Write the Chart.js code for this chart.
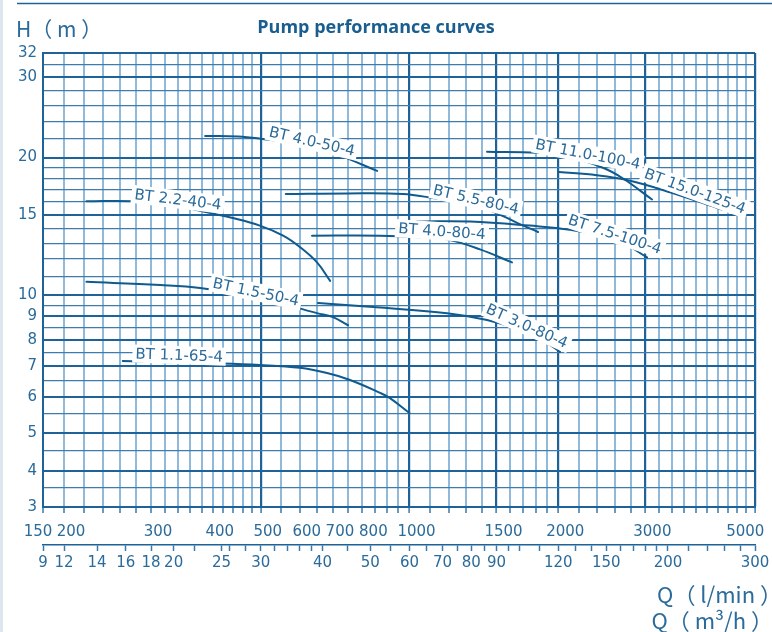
<!DOCTYPE html>
<html>
<head>
<meta charset="utf-8">
<script src="https://cdn.jsdelivr.net/npm/chart.js@4/dist/chart.umd.min.js"></script>
<style>
  html, body { margin: 0; padding: 0; background: #fff; }
  body { width: 772px; height: 632px; overflow: hidden; }
  canvas { display: block; }
</style>
</head>
<body>
<canvas id="pumpChart" width="772" height="632"></canvas>
<script>
// pump curves, Q in l/min, H in m
const curveNames = ['BT 4.0-50-4', 'BT 2.2-40-4', 'BT 1.5-50-4', 'BT 1.1-65-4', 'BT 5.5-80-4',
    'BT 4.0-80-4', 'BT 3.0-80-4', 'BT 7.5-100-4', 'BT 11.0-100-4', 'BT 15.0-125-4'];

const curveQ = [
    [386, 450, 500, 600, 670, 725, 860],
    [222, 276, 328, 377, 439, 498, 555, 600, 650, 691],
    [222, 313, 377, 498, 650, 700, 751],
    [263, 400, 498, 600, 681, 758, 872, 913, 1000],
    [562, 750, 970, 1100, 1390, 1546, 1650, 1820],
    [635, 872, 1050, 1191, 1389, 1612],
    [653, 872, 1191, 1435, 1673, 1897, 2016],
    [1035, 1326, 1750, 2112, 2630, 3024],
    [1435, 1811, 2044, 2463, 2704, 3095],
    [2006, 2394, 2754, 3366, 4288],
];

const curveH = [
    [22.3, 22.25, 22.0, 21.4, 20.8, 20.2, 18.7],
    [16.05, 16.05, 15.75, 15.3, 14.75, 14.2, 13.5, 12.75, 11.8, 10.75],
    [10.7, 10.53, 10.37, 9.86, 9.14, 8.96, 8.6],
    [7.18, 7.1, 7.04, 6.94, 6.76, 6.53, 6.12, 5.96, 5.53],
    [16.65, 16.7, 16.65, 16.35, 15.6, 14.9, 14.4, 13.75],
    [13.5, 13.5, 13.4, 13.25, 12.6, 11.8],
    [9.62, 9.4, 9.14, 8.83, 8.4, 7.86, 7.52],
    [14.5, 14.5, 14.2, 13.9, 13.2, 12.1],
    [20.6, 20.5, 20.25, 19.0, 18.0, 16.2],
    [18.6, 18.3, 17.86, 16.8, 15.4],
];

// where each curve name sits (data units) and its tilt in degrees
const labelQ = [635, 340, 489, 342, 1363, 1163, 1729, 2604, 2296, 3781];
const labelH = [21.7, 16.2, 10.17, 7.4, 16.2, 13.8, 8.57, 13.6, 20.35, 16.9];
const labelTilt = [13, 7, 12, 2, 13, 4, 24, 18, 11, 20];

// tick labels and grid values
const qLabels = [150, 200, 300, 400, 500, 600, 700, 800, 1000, 1500, 2000, 3000, 5000];
const qGrid = [220, 240, 260, 280, 320, 340, 360, 380, 420, 440, 460, 480, 550, 650, 750, 850, 900, 950,
    1100, 1200, 1300, 1400, 1600, 1700, 1800, 1900, 2200, 2400, 2600, 2800,
    3200, 3400, 3600, 3800, 4000, 4200, 4400, 4600, 4800];
const qBold = [500, 1000, 1500, 2000, 3000, 5000];
const m3Labels = [9, 12, 14, 16, 18, 20, 25, 30, 40, 50, 60, 70, 80, 90, 120, 150, 200, 300];
const m3Minor = [22, 26, 28, 32, 34, 36, 38, 45, 55, 65, 75, 85, 95, 100, 110, 130, 140, 160, 170, 180, 190,
    220, 240, 260, 280];
const hLabels = [3, 4, 5, 6, 7, 8, 9, 10, 15, 20, 30, 32];
const hGrid = [3.5, 4.5, 5.5, 6.5, 7.5, 8.5, 9.5, 11, 12, 13, 14, 16, 17, 18, 19, 22, 24, 26, 28, 31];

const BLUE = '#1d6298';
const TEXT = '#2a6b9b';

// the printed sheet squeezes the ends of both axes; piecewise log mapping [value, fraction]
const axisSetup = {
    x: { warp: [[150, 0], [200, 0.0295], [5000, 1]], values: [...qLabels, ...qGrid] },
    x2: { warp: [[9, 0], [12, 0.0295], [300, 1]], values: [...m3Labels, ...m3Minor] },
    y: { warp: [[3, 0], [4, 0.0793], [5, 0.163], [30, 0.9471], [32, 1]], values: [...hLabels, ...hGrid] },
};

class WarpLogScale extends Chart.LogarithmicScale {
    static id = 'warpLog';

    buildTicks() {
        return axisSetup[this.id].values.slice().sort((a, b) => a - b).map((value) => ({ value }));
    }

    getPixelForValue(value) {
        if (value === null || value === undefined || isNaN(value) || value <= 0) return NaN;
        const warp = axisSetup[this.id].warp;
        const lv = Math.log10(value);
        let i = 0;
        while (i < warp.length - 2 && lv > Math.log10(warp[i + 1][0])) i++;
        const l0 = Math.log10(warp[i][0]);
        const l1 = Math.log10(warp[i + 1][0]);
        const f = warp[i][1] + (lv - l0) / (l1 - l0) * (warp[i + 1][1] - warp[i][1]);
        return this.getPixelForDecimal(f);
    }

    getValueForPixel(pixel) {
        const warp = axisSetup[this.id].warp;
        const f = this.getDecimalForPixel(pixel);
        let i = 0;
        while (i < warp.length - 2 && f > warp[i + 1][1]) i++;
        const l0 = Math.log10(warp[i][0]);
        const l1 = Math.log10(warp[i + 1][0]);
        return Math.pow(10, l0 + (f - warp[i][1]) / (warp[i + 1][1] - warp[i][1]) * (l1 - l0));
    }
}
Chart.register(WarpLogScale);

const curveLabels = {
    id: 'curveLabels',
    afterDatasetsDraw(chart) {
        const { ctx } = chart;
        const x = chart.scales.x;
        const y = chart.scales.y;
        ctx.save();
        ctx.font = '15px "DejaVu Sans"';
        ctx.textAlign = 'center';
        ctx.textBaseline = 'middle';
        curveNames.forEach((name, i) => {
            ctx.save();
            ctx.translate(x.getPixelForValue(labelQ[i]), y.getPixelForValue(labelH[i]));
            ctx.rotate(labelTilt[i] * Math.PI / 180);
            const w = ctx.measureText(name).width + 6;
            ctx.fillStyle = '#fff';
            ctx.fillRect(-w / 2, -9, w, 18);
            ctx.fillStyle = TEXT;
            ctx.fillText(name, 0, 1);
            ctx.restore();
        });
        ctx.restore();
    },
};

const sheetText = {
    id: 'sheetText',
    afterDraw(chart) {
        const { ctx } = chart;
        ctx.save();
        ctx.fillStyle = '#dfe5ef';
        ctx.fillRect(0, 0, 3, 632);
        ctx.strokeStyle = BLUE;
        ctx.lineWidth = 1.5;
        ctx.beginPath();
        ctx.moveTo(17, 3.5);
        ctx.lineTo(772, 3.5);
        ctx.stroke();

        ctx.fillStyle = '#1a5e8f';
        ctx.textBaseline = 'alphabetic';
        ctx.font = 'bold 18px "Open Sans"';
        ctx.textAlign = 'center';
        ctx.fillText('Pump performance curves', 376, 33);

        ctx.fillStyle = TEXT;
        ctx.textAlign = 'left';
        ctx.font = '21px "Noto Sans CJK SC"';
        ctx.fillText('H（ m ）', 16, 37);

        ctx.textAlign = 'right';
        ctx.font = '22px "Noto Sans CJK SC"';
        ctx.fillText('Q（ l/min ）', 782, 603);
        ctx.fillText('Q（ m³/h ）', 773, 629);
        ctx.restore();
    },
};

const datasets = curveNames.map((name, i) => ({
    label: name,
    data: curveQ[i].map((q, k) => ({ x: q, y: curveH[i][k] })),
    borderColor: '#0f5a8e',
    borderWidth: 2,
    borderJoinStyle: 'round',
    borderCapStyle: 'round',
    pointRadius: 0,
    fill: false,
    tension: 0.4,
    xAxisID: 'x',
    yAxisID: 'y',
}));

const tickFont = { family: '"DejaVu Sans"', size: 15 };

// printed labels sit a little right of their lines; the end ones are pulled inward
function qTickText(v) {
    if (!qLabels.includes(v)) return '';
    if (v === 150) return '150     ';
    if (v === 800) return '  800';
    if (v === 5000) return '5000       ';
    return String(v);
}

new Chart(document.getElementById('pumpChart'), {
    type: 'line',
    data: { datasets },
    options: {
        responsive: false,
        animation: false,
        events: [],
        layout: { padding: { top: 53, right: 17, bottom: 57, left: 0 } },
        plugins: { legend: { display: false }, tooltip: { enabled: false } },
        scales: {
            x: {
                type: 'warpLog',
                position: 'bottom',
                min: 150,
                max: 5000,
                border: { color: BLUE, width: 2 },
                grid: {
                    color: (c) => (qBold.includes(c.tick.value) ? BLUE : 'rgba(70,140,195,0.6)'),
                    lineWidth: (c) => (qBold.includes(c.tick.value) ? 2.2 : 2),
                    tickColor: '#3a78a8',
                    tickWidth: 1.5,
                    tickLength: 6,
                },
                ticks: {
                    autoSkip: false,
                    maxRotation: 0,
                    minRotation: 0,
                    padding: 10,
                    labelOffset: 7,
                    color: TEXT,
                    font: tickFont,
                    callback: qTickText,
                },
                afterFit(s) { s.height = 38; s.paddingLeft = 0; s.paddingRight = 0; },
            },
            x2: {
                type: 'warpLog',
                position: 'bottom',
                min: 9,
                max: 300,
                border: { color: BLUE, width: 1.5 },
                grid: {
                    drawOnChartArea: false,
                    color: '#3a78a8',
                    tickColor: '#3a78a8',
                    tickWidth: 1.5,
                    tickLength: 6,
                },
                ticks: {
                    autoSkip: false,
                    maxRotation: 0,
                    minRotation: 0,
                    padding: 3,
                    color: TEXT,
                    font: tickFont,
                    callback: (v) => (m3Labels.includes(v) ? String(v) : ''),
                },
                afterFit(s) { s.height = 30; s.paddingLeft = 0; s.paddingRight = 0; },
            },
            y: {
                type: 'warpLog',
                position: 'left',
                min: 3,
                max: 32,
                border: { color: BLUE, width: 2 },
                grid: {
                    drawTicks: false,
                    color: (c) => (hLabels.includes(c.tick.value) ? BLUE : '#3f7bab'),
                    lineWidth: (c) => (hLabels.includes(c.tick.value) ? 2 : 1.3),
                },
                ticks: {
                    autoSkip: false,
                    padding: 6,
                    color: TEXT,
                    font: tickFont,
                    callback: (v) => (hLabels.includes(v) ? String(v) : ''),
                },
                afterFit(s) { s.width = 43; s.paddingTop = 0; s.paddingBottom = 0; },
            },
        },
    },
    plugins: [curveLabels, sheetText],
});
</script>
</body>
</html>
